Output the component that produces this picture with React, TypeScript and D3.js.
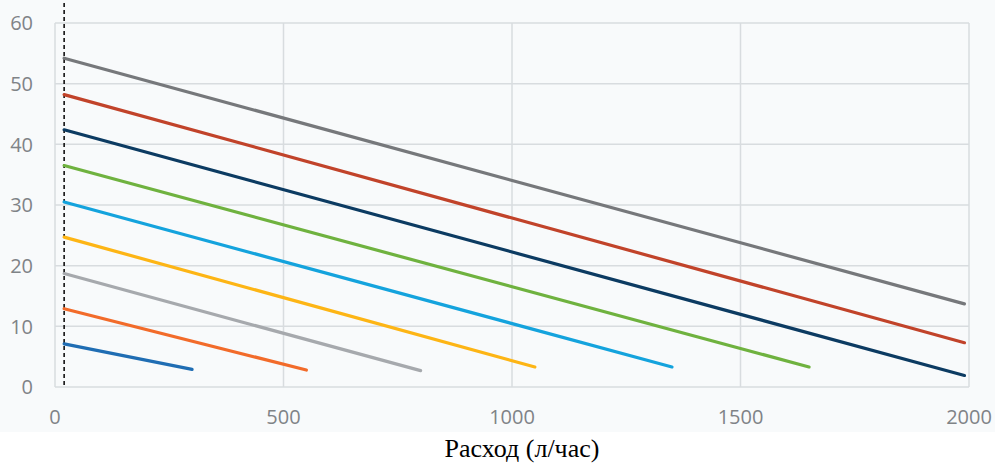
import React from "react";
import * as d3 from "d3";

const W = 995;
const H = 463;

const seriesNames = ["s1", "s2", "s3", "s4", "s5", "s6", "s7", "s8", "s9"];
const seriesColors = ["#1f6db3", "#f26b2a", "#a6a9ad", "#fdb515", "#14a3dd", "#6fb23f", "#0c3b62", "#c1432a", "#76787b"];
const startFlow = [20, 20, 20, 20, 20, 20, 20, 20, 20];
const startHead = [7.1, 12.9, 18.7, 24.7, 30.5, 36.5, 42.4, 48.2, 54.2];
const endFlow = [300, 550, 800, 1050, 1350, 1650, 1990, 1990, 1990];
const endHead = [2.9, 2.8, 2.7, 3.3, 3.3, 3.3, 1.9, 7.3, 13.7];

const xTicks = [0, 500, 1000, 1500, 2000];
const yTicks = [0, 10, 20, 30, 40, 50, 60];
const markerFlow = 20;
const xTitle = "Расход (л/час)";

export default function App() {
  const margin = { left: 55, right: 995 - 969, top: 23, bottom: 463 - 387 };
  const x = d3.scaleLinear().domain([0, 2000]).range([margin.left, W - margin.right]);
  const y = d3.scaleLinear().domain([0, 60]).range([H - margin.bottom, margin.top]);
  const line = d3
    .line<[number, number]>()
    .x((d) => x(d[0]))
    .y((d) => y(d[1]));

  return (
    <svg
      width={W}
      height={H}
      style={{ position: "absolute", left: 0, top: 0, background: "#ffffff" }}
    >
      <rect x={0} y={0} width={W} height={432} fill="#f8fafb" />
      {yTicks.map((t) => (
        <line key={"gy" + t} x1={x(0)} x2={x(2000)} y1={y(t)} y2={y(t)} stroke="#d8dcdf" strokeWidth={1.5} />
      ))}
      {xTicks.map((t) => (
        <line key={"gx" + t} x1={x(t)} x2={x(t)} y1={y(0)} y2={y(60)} stroke="#d8dcdf" strokeWidth={1.5} />
      ))}
      <line
        x1={x(markerFlow)}
        x2={x(markerFlow)}
        y1={3}
        y2={y(0)}
        stroke="#111"
        strokeWidth={1.6}
        strokeDasharray="4 3"
      />
      {seriesNames.map((n, i) => (
        <path
          key={n}
          d={line([
            [startFlow[i], startHead[i]],
            [endFlow[i], endHead[i]],
          ]) || ""}
          fill="none"
          stroke={seriesColors[i]}
          strokeWidth={3.2}
          strokeLinecap="round"
        />
      ))}
      {yTicks.map((t) => (
        <text
          key={"ty" + t}
          x={33}
          y={y(t)}
          dy="0.36em"
          textAnchor="end"
          fontFamily="'Open Sans', sans-serif"
          fontSize={20}
          fill="#7f8387"
        >
          {t}
        </text>
      ))}
      {xTicks.map((t) => (
        <text
          key={"tx" + t}
          x={x(t)}
          y={417}
          dy="0.36em"
          textAnchor="middle"
          fontFamily="'Open Sans', sans-serif"
          fontSize={20}
          fill="#7f8387"
        >
          {t}
        </text>
      ))}
      <text
        x={522}
        y={457}
        textAnchor="middle"
        fontFamily="'Liberation Serif', 'Times New Roman', serif"
        fontSize={26}
        fill="#000"
      >
        {xTitle}
      </text>
    </svg>
  );
}
